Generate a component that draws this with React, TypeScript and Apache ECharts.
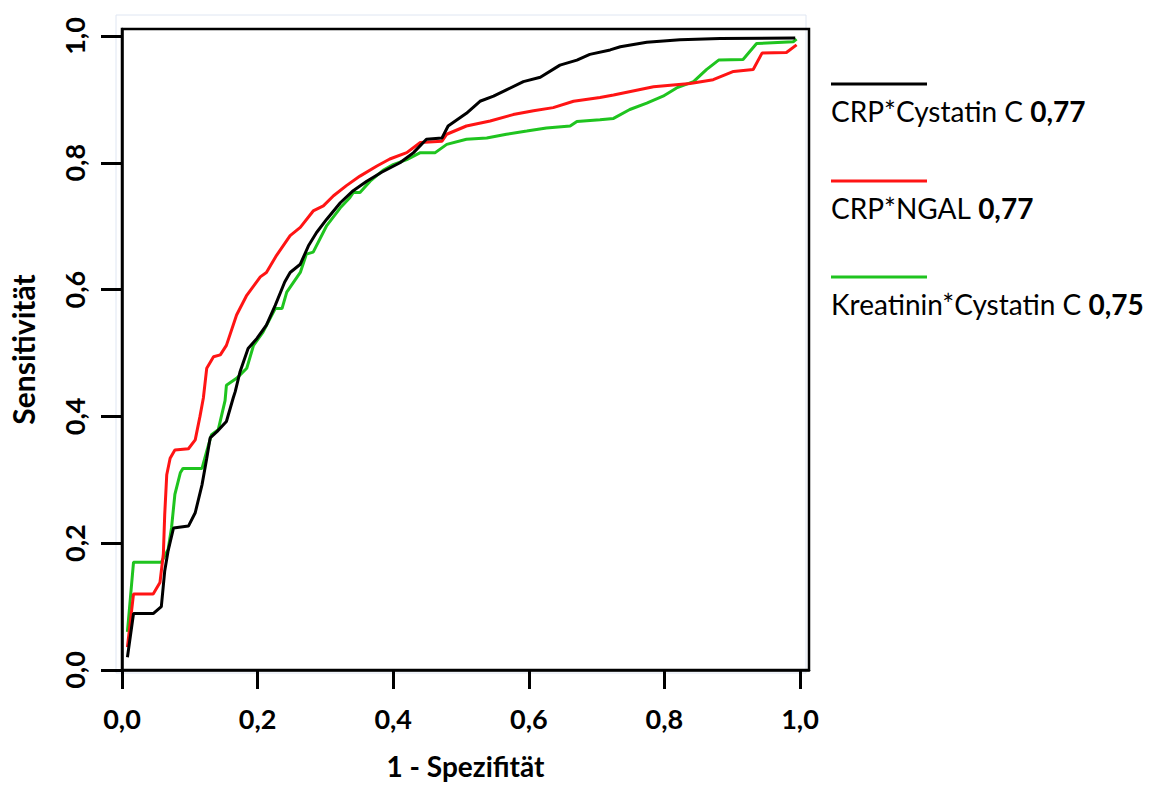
import React, { useEffect, useRef } from "react";
import * as echarts from "echarts";

// ROC data (x = 1 - Spezifität, y = Sensitivität)
const crpCystatinX = [0.008, 0.017, 0.046, 0.058, 0.063, 0.068, 0.076, 0.098, 0.108, 0.118, 0.125, 0.13, 0.14, 0.154, 0.164, 0.167, 0.174, 0.186, 0.199, 0.213, 0.226, 0.24, 0.248, 0.263, 0.275, 0.287, 0.302, 0.322, 0.341, 0.361, 0.383, 0.41, 0.43, 0.449, 0.472, 0.481, 0.508, 0.528, 0.548, 0.567, 0.592, 0.617, 0.646, 0.671, 0.69, 0.72, 0.735, 0.774, 0.823, 0.882, 0.993];
const crpCystatinY = [0.02, 0.089, 0.089, 0.1, 0.156, 0.188, 0.224, 0.227, 0.248, 0.292, 0.334, 0.366, 0.376, 0.392, 0.429, 0.439, 0.47, 0.507, 0.523, 0.544, 0.575, 0.612, 0.627, 0.64, 0.669, 0.69, 0.711, 0.737, 0.756, 0.771, 0.785, 0.8, 0.816, 0.837, 0.839, 0.858, 0.878, 0.897, 0.905, 0.915, 0.928, 0.935, 0.954, 0.962, 0.971, 0.978, 0.983, 0.99, 0.994, 0.996, 0.997];

const crpNgalX = [0.008, 0.017, 0.046, 0.056, 0.061, 0.063, 0.066, 0.071, 0.078, 0.098, 0.108, 0.115, 0.12, 0.125, 0.135, 0.145, 0.154, 0.169, 0.184, 0.204, 0.213, 0.228, 0.248, 0.263, 0.282, 0.297, 0.312, 0.331, 0.351, 0.376, 0.395, 0.42, 0.44, 0.472, 0.479, 0.508, 0.543, 0.577, 0.607, 0.636, 0.666, 0.705, 0.725, 0.784, 0.838, 0.872, 0.902, 0.931, 0.944, 0.98, 0.995];
const crpNgalY = [0.036, 0.12, 0.12, 0.138, 0.183, 0.245, 0.308, 0.334, 0.347, 0.349, 0.363, 0.4, 0.429, 0.476, 0.494, 0.497, 0.512, 0.56, 0.591, 0.62, 0.627, 0.654, 0.685, 0.698, 0.724, 0.732, 0.748, 0.764, 0.779, 0.795, 0.806, 0.816, 0.832, 0.834, 0.845, 0.858, 0.866, 0.876, 0.882, 0.887, 0.897, 0.903, 0.907, 0.92, 0.925, 0.931, 0.944, 0.947, 0.973, 0.974, 0.986];

const kreaCystatinX = [0.008, 0.017, 0.058, 0.068, 0.073, 0.078, 0.086, 0.09, 0.118, 0.125, 0.132, 0.142, 0.152, 0.154, 0.169, 0.184, 0.194, 0.208, 0.226, 0.236, 0.243, 0.263, 0.272, 0.282, 0.302, 0.322, 0.336, 0.341, 0.351, 0.366, 0.385, 0.4, 0.42, 0.44, 0.462, 0.479, 0.508, 0.538, 0.567, 0.597, 0.626, 0.661, 0.671, 0.705, 0.725, 0.749, 0.774, 0.798, 0.818, 0.843, 0.862, 0.88, 0.916, 0.936, 0.99, 0.995];
const kreaCystatinY = [0.06, 0.17, 0.17, 0.19, 0.224, 0.277, 0.311, 0.318, 0.318, 0.345, 0.371, 0.379, 0.425, 0.449, 0.46, 0.476, 0.512, 0.533, 0.57, 0.57, 0.596, 0.627, 0.656, 0.659, 0.701, 0.729, 0.745, 0.753, 0.753, 0.771, 0.788, 0.797, 0.805, 0.816, 0.816, 0.829, 0.837, 0.839, 0.845, 0.85, 0.855, 0.858, 0.865, 0.868, 0.87, 0.884, 0.894, 0.905, 0.918, 0.928, 0.947, 0.962, 0.963, 0.988, 0.991, 0.995];

const tickValues = [0, 0.2, 0.4, 0.6, 0.8, 1.0];
const seriesNames = ["CRP*Cystatin C", "CRP*NGAL", "Kreatinin*Cystatin C"];
const aucLabels = ["0,77", "0,77", "0,75"];
const seriesColors = ["#000000", "#ff1414", "#1fc41f"];

const zip = (xs: number[], ys: number[]) => xs.map((x, i) => [x, ys[i]]);

const fmt = (v: number) => v.toFixed(1).replace(".", ",");

export default function App() {
  const ref = useRef<HTMLDivElement>(null);

  useEffect(() => {
    if (!ref.current) return;
    const chart = echarts.init(ref.current, null, { renderer: "svg" });
    const font = "Lato";
    const datasets = [
      zip(crpCystatinX, crpCystatinY),
      zip(crpNgalX, crpNgalY),
      zip(kreaCystatinX, kreaCystatinY),
    ];
    const legendTop = [84, 181, 277];
    const legendGraphics: any[] = [];
    seriesNames.forEach((name, i) => {
      legendGraphics.push({
        type: "line",
        shape: { x1: 831, y1: legendTop[i], x2: 927, y2: legendTop[i] },
        style: { stroke: seriesColors[i], lineWidth: 3 },
      });
      legendGraphics.push({
        type: "text",
        x: 831,
        y: legendTop[i] + 27,
        style: {
          text: "{n|" + name + " }{b|" + aucLabels[i] + "}",
          verticalAlign: "middle",
          rich: {
            n: { fontFamily: font, fontSize: 28, fill: "#000", fontWeight: "normal" },
            b: { fontFamily: font, fontSize: 28, fill: "#000", fontWeight: "bold" },
          },
        },
      });
    });

    chart.setOption({
      animation: false,
      backgroundColor: "#ffffff",
      grid: {
        left: 122,
        top: 29,
        width: 687,
        height: 644,
        show: true,
        borderColor: "#000",
        borderWidth: 2.5,
        backgroundColor: "transparent",
      },
      xAxis: {
        type: "value",
        min: 0,
        max: 1.0133,
        name: "1 - Spezifität",
        nameLocation: "middle",
        nameGap: 82,
        nameTextStyle: { fontFamily: font, fontSize: 28, fontWeight: "bold", color: "#000" },
        axisLine: { show: true, lineStyle: { color: "#000", width: 2.5 } },
        axisTick: { show: true, length: 19, customValues: tickValues, lineStyle: { color: "#000", width: 3 } },
        axisLabel: {
          customValues: tickValues,
          margin: 35,
          formatter: (v: number) => fmt(v),
          fontFamily: font,
          fontSize: 27,
          fontWeight: "bold",
          color: "#000",
        },
        splitLine: { show: false },
      },
      yAxis: {
        type: "value",
        min: 0,
        max: 1.011,
        name: "Sensitivität",
        nameLocation: "middle",
        nameGap: 84,
        nameRotate: 90,
        nameTextStyle: { fontFamily: font, fontSize: 30, fontWeight: "bold", color: "#000" },
        axisLine: { show: true, lineStyle: { color: "#000", width: 2.5 } },
        axisTick: { show: true, length: 21, customValues: tickValues, lineStyle: { color: "#000", width: 3 } },
        axisLabel: {
          customValues: tickValues,
          rotate: 90,
          margin: 34,
          formatter: (v: number) => fmt(v),
          fontFamily: font,
          fontSize: 27,
          fontWeight: "bold",
          color: "#000",
        },
        splitLine: { show: false },
      },
      graphic: [
        {
          type: "rect",
          shape: { x: 116, y: 15, width: 690, height: 658 },
          style: { fill: "none", stroke: "#dfe6f2", lineWidth: 1 },
          z: -1,
        },
        ...legendGraphics,
      ],
      series: datasets.map((d, i) => ({
        type: "line",
        name: seriesNames[i],
        data: d,
        showSymbol: false,
        symbol: "none",
        lineStyle: { color: seriesColors[i], width: 3 },
        z: 3 - i,
      })),
    });
    return () => chart.dispose();
  }, []);

  return (
    <div
      ref={ref}
      style={{ position: "fixed", left: 0, top: 0, width: 1153, height: 785 }}
    />
  );
}
